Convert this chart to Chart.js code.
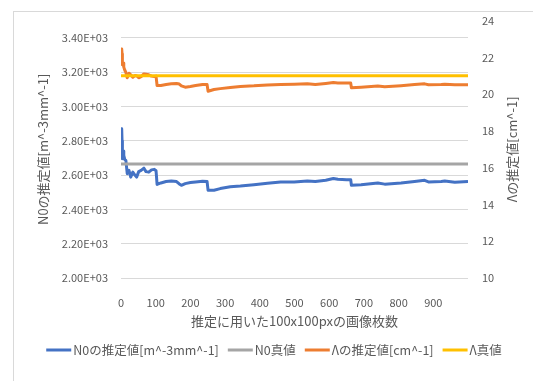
<!DOCTYPE html>
<html>
<head>
<meta charset="utf-8">
<script src="https://cdn.jsdelivr.net/npm/chart.js@4/dist/chart.umd.min.js"></script>
<style>
  html, body { margin: 0; padding: 0; background: #ffffff; }
  #wrap { width: 533px; height: 381px; position: relative; }
</style>
</head>
<body>
<div id="wrap"><canvas id="c" width="533" height="381"></canvas></div>
<script>
// Number of 100x100px images used for the estimate (sampled along the run)
const imageCounts = [
  1, 2, 3, 4, 6, 8, 11, 14, 18, 23, 28, 34, 40, 45, 51, 58, 66, 72, 80, 88, 96, 101,
  104, 115, 130, 145, 160, 168, 174, 185, 200, 215, 235, 248,
  251, 268, 286, 315, 344, 383, 422, 460, 499, 537, 560, 590, 612, 625, 650, 662,
  664, 692, 740, 760, 807, 846, 875, 886, 923, 933, 962, 1000
];
// Estimated N0 [m^-3 mm^-1]
const n0Estimate = [
  2700, 2870, 2800, 2695, 2740, 2715, 2690, 2685, 2608, 2627, 2588, 2617, 2600, 2588, 2620, 2627, 2640, 2620, 2617, 2630, 2633, 2625,
  2545, 2554, 2562, 2565, 2562, 2548, 2540, 2550, 2556, 2560, 2564, 2563,
  2511, 2511, 2521, 2532, 2536, 2544, 2552, 2560, 2559, 2565, 2562, 2570, 2580, 2575, 2572, 2573,
  2540, 2544, 2554, 2547, 2554, 2562, 2569, 2560, 2562, 2565, 2558, 2562
];
// Estimated Λ [cm^-1]
const lambdaEstimate = [
  21.9, 22.46, 22.2, 21.6, 21.7, 21.47, 21.3, 21.19, 20.89, 21.14, 21.05, 20.92, 21.01, 21.0, 20.89, 20.95, 21.10, 21.08, 21.05, 20.98, 20.96, 20.98,
  20.47, 20.47, 20.52, 20.56, 20.58, 20.55, 20.45, 20.38, 20.42, 20.47, 20.53, 20.52,
  20.16, 20.25, 20.30, 20.36, 20.42, 20.45, 20.50, 20.52, 20.54, 20.56, 20.52, 20.58, 20.63, 20.61, 20.60, 20.60,
  20.35, 20.38, 20.44, 20.40, 20.46, 20.52, 20.56, 20.51, 20.52, 20.54, 20.51, 20.51
];
// True values
const n0True = 2665;
const lambdaTrue = 21.0;
const trueRange = [0, 1000];

// Axis ticks
const xTicks = [0, 100, 200, 300, 400, 500, 600, 700, 800, 900];
const leftTicks = [2000, 2200, 2400, 2600, 2800, 3000, 3200, 3400];
const rightTicks = [10, 12, 14, 16, 18, 20, 22, 24];

// Texts
const seriesNames = ['N0の推定値[m^-3mm^-1]', 'N0真値', 'Λの推定値[cm^-1]', 'Λ真値'];
const seriesColors = ['#4472C4', '#A5A5A5', '#ED7D31', '#FFC000'];
const xTitle = '推定に用いた100x100pxの画像枚数';
const leftTitle = 'N0の推定値[m^-3mm^-1]';
const rightTitle = 'Λの推定値[cm^-1]';

const FONT = "'Noto Sans CJK JP', 'Noto Sans', sans-serif";
const TEXT = '#595959';

function sci(v) {
  const [m, e] = v.toExponential(2).split('e');
  const n = parseInt(e, 10);
  return m + 'E' + (n < 0 ? '-' : '+') + String(Math.abs(n)).padStart(2, '0');
}

const pts = (xs, ys) => xs.map((x, i) => ({ x: x, y: ys[i] }));
const flat = v => trueRange.map(x => ({ x: x, y: v }));

// Background, outer frame, axis titles and legend
const decor = {
  id: 'decor',
  beforeDraw(chart) {
    const ctx = chart.ctx;
    ctx.save();
    ctx.fillStyle = '#ffffff';
    ctx.fillRect(0, 0, chart.width, chart.height);
    ctx.strokeStyle = '#D9D9D9';
    ctx.lineWidth = 1;
    ctx.strokeRect(13.5, 11.5, 560, 420);
    ctx.restore();
  },
  afterDraw(chart) {
    const ctx = chart.ctx;
    const a = chart.chartArea;
    const midY = (a.top + a.bottom) / 2;
    ctx.save();
    ctx.fillStyle = TEXT;
    ctx.textBaseline = 'middle';
    ctx.textAlign = 'center';
    ctx.font = '13px ' + FONT;
    ctx.fillText(xTitle, (a.left + a.right) / 2, 321);

    ctx.save();
    ctx.translate(43, midY);
    ctx.rotate(-Math.PI / 2);
    ctx.fillText(leftTitle, 0, 0);
    ctx.restore();

    ctx.save();
    ctx.translate(512, midY);
    ctx.rotate(-Math.PI / 2);
    ctx.fillText(rightTitle, 0, 0);
    ctx.restore();

    // legend
    ctx.font = '12.5px ' + FONT;
    ctx.textAlign = 'left';
    const lineLen = 25, gap = 2, itemGap = 9;
    const widths = seriesNames.map(s => lineLen + gap + ctx.measureText(s).width);
    const total = widths.reduce((s, w) => s + w, 0) + itemGap * (widths.length - 1);
    let x = 274 - total / 2;
    const y = 350;
    seriesNames.forEach((name, i) => {
      ctx.strokeStyle = seriesColors[i];
      ctx.lineWidth = 3;
      ctx.beginPath();
      ctx.moveTo(x, y);
      ctx.lineTo(x + lineLen, y);
      ctx.stroke();
      ctx.fillText(name, x + lineLen + gap, y);
      x += widths[i] + itemGap;
    });
    ctx.restore();
  }
};

const lineStyle = (color, order) => ({
  borderColor: color,
  backgroundColor: color,
  borderWidth: 3,
  pointRadius: 0,
  tension: 0,
  borderJoinStyle: 'round',
  borderCapStyle: 'butt',
  order: order
});

new Chart(document.getElementById('c'), {
  type: 'line',
  data: {
    datasets: [
      Object.assign({ label: seriesNames[0], data: pts(imageCounts, n0Estimate), yAxisID: 'y' }, lineStyle(seriesColors[0], 3)),
      Object.assign({ label: seriesNames[1], data: flat(n0True), yAxisID: 'y' }, lineStyle(seriesColors[1], 2)),
      Object.assign({ label: seriesNames[2], data: pts(imageCounts, lambdaEstimate), yAxisID: 'y1' }, lineStyle(seriesColors[2], 1)),
      Object.assign({ label: seriesNames[3], data: flat(lambdaTrue), yAxisID: 'y1' }, lineStyle(seriesColors[3], 0))
    ]
  },
  options: {
    responsive: false,
    animation: false,
    devicePixelRatio: 1,
    layout: { padding: { top: 20, left: 0, right: 0, bottom: 0 } },
    plugins: { legend: { display: false }, tooltip: { enabled: false } },
    scales: {
      x: {
        type: 'linear',
        min: 0,
        max: 1000,
        afterBuildTicks: s => { s.ticks = xTicks.map(v => ({ value: v })); },
        afterFit: s => { s.height = 103; },
        grid: { display: false },
        border: { display: false },
        ticks: { color: TEXT, font: { family: FONT, size: 11 }, padding: 10, maxRotation: 0, autoSkip: false }
      },
      y: {
        position: 'left',
        min: 2000,
        max: 3500,
        afterBuildTicks: s => { s.ticks = leftTicks.map(v => ({ value: v })); },
        afterFit: s => { s.width = 121; },
        grid: { color: '#D9D9D9', lineWidth: 1, drawTicks: false },
        border: { display: false },
        ticks: { color: TEXT, font: { family: FONT, size: 11 }, padding: 13, callback: v => sci(v) }
      },
      y1: {
        position: 'right',
        min: 10,
        max: 24,
        afterBuildTicks: s => { s.ticks = rightTicks.map(v => ({ value: v })); },
        afterFit: s => { s.width = 65; },
        grid: { display: false, drawTicks: false },
        border: { display: false },
        ticks: { color: TEXT, font: { family: FONT, size: 11 }, padding: 14 }
      }
    }
  },
  plugins: [decor]
});
</script>
</body>
</html>
